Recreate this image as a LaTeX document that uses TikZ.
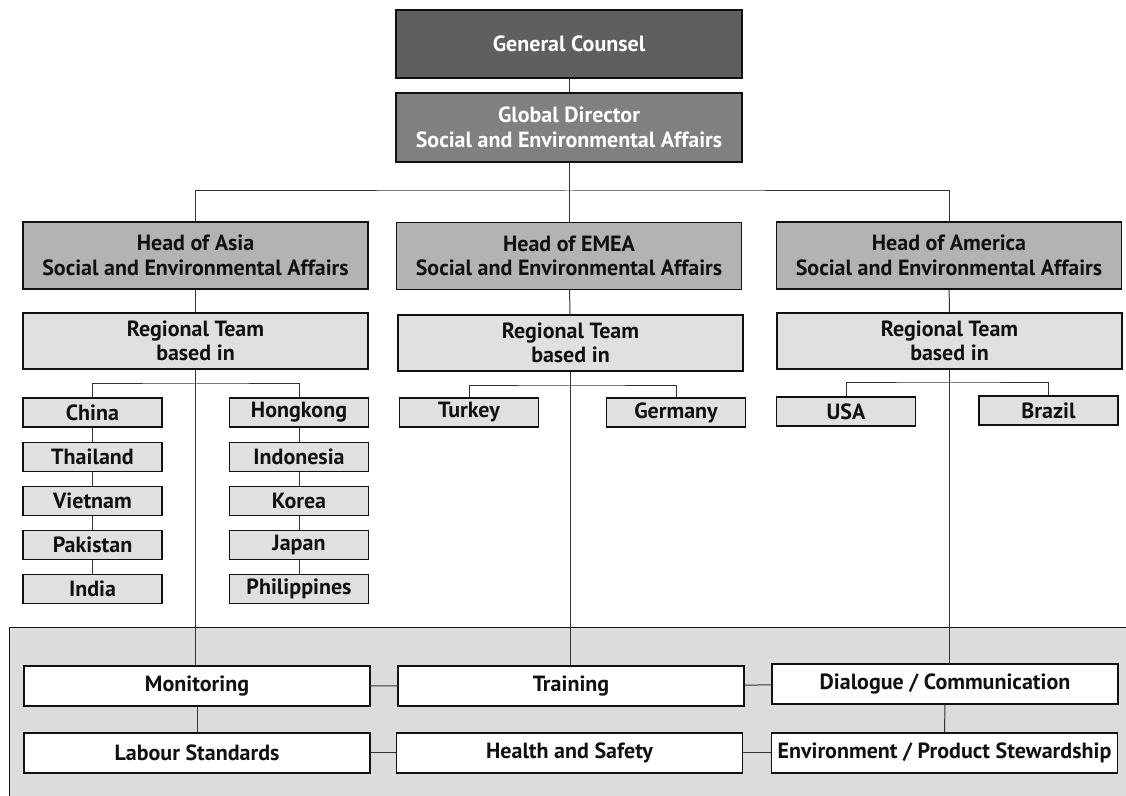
\documentclass[tikz,border=0pt]{standalone}
\usepackage{fontspec}
\setmainfont{PT Sans}
\usepackage{xcolor}
\usepackage{tikz}
\usetikzlibrary{positioning}
\definecolor{ink}      {HTML}{111111}
\definecolor{wire}     {HTML}{333333}
\definecolor{dark}     {HTML}{5F5F5F}
\definecolor{mid}      {HTML}{808080}
\definecolor{headbg}   {HTML}{B3B3B3}
\definecolor{teambg}   {HTML}{E0E0E0}
\definecolor{panelbg}  {HTML}{DCDCDC}
\tikzset{
  box/.style   = {draw=ink, line width=0.6pt, align=center, inner sep=2pt,
                  font=\bfseries\fontsize{11}{12.3}\selectfont},
  chief/.style = {box, fill=dark, text=white, minimum width=173pt, minimum height=34pt},
  lead/.style  = {box, fill=mid, text=white, minimum width=173pt, minimum height=34.5pt},
  head/.style  = {box, fill=headbg, text=ink, minimum width=172.5pt, minimum height=33.5pt},
  team/.style  = {box, fill=teambg, text=ink, minimum width=172.5pt, minimum height=28pt},
  land/.style  = {box, fill=teambg, text=ink, minimum width=69.5pt, minimum height=14.5pt},
  task/.style  = {box, fill=white, text=ink, minimum width=173pt, minimum height=20pt},
  link/.style  = {draw=wire, line width=0.5pt},
  panel/.style = {fill=panelbg, draw=ink, line width=0.5pt},
}

\begin{document}
\begin{tikzpicture}[x=0.5pt, y=-0.5pt, node distance=7pt]
  \useasboundingbox (0,0) rectangle (1126,796);
  \draw[panel] (9,628) rectangle (1140,800);

  \node[chief] (gc)   at (569,44)    {General Counsel};
  \node[lead]  (gd)   at (569,127.5) {Global Director\\Social and Environmental Affairs};

  \node[head]  (asia) at (195.5,255.5) {Head of Asia\\Social and Environmental Affairs};
  \node[head]  (emea) at (569,256)     {Head of EMEA\\Social and Environmental Affairs};
  \node[head]  (amer) at (949,255.5)   {Head of America\\Social and Environmental Affairs};

  \node[team]  (asiateam) at (195.5,341) {Regional Team\\based in};
  \node[team]  (emeateam) at (570.5,343) {Regional Team\\based in};
  \node[team]  (amerteam) at (949.5,341) {Regional Team\\based in};

  % Asia
  \node[land] (china) at (92.5,412.5)  {China};
  \node[land] (thai)  [below=of china] {Thailand};
  \node[land] (viet)  [below=of thai]  {Vietnam};
  \node[land] (pak)   [below=of viet]  {Pakistan};
  \node[land] (india) [below=of pak]   {India};
  \node[land] (hk)    at (299,412.5)   {Hongkong};
  \node[land] (indo)  [below=of hk]    {Indonesia};
  \node[land] (korea) [below=of indo]  {Korea};
  \node[land] (japan) [below=of korea] {Japan};
  \node[land] (phil)  [below=of japan] {Philippines};

  % EMEA and America
  \node[land] (turkey)  at (469,412.5)  {Turkey};
  \node[land] (germany) at (676,412.5)  {Germany};
  \node[land] (usa)     at (846,411.5)  {USA};
  \node[land] (brazil)  at (1048.5,410.5) {Brazil};

  % tasks
  \node[task] (mon) at (197,686)   {Monitoring};
  \node[task] (trn) at (571,686)   {Training};
  \node[task] (dlg) at (945,684)   {Dialogue / Communication};
  \node[task] (lab) at (197,753)   {Labour Standards};
  \node[task] (hs)  at (569.5,753) {Health and Safety};
  \node[task] (env) at (944.5,753) {Environment / Product Stewardship};

  \coordinate (bus)    at (569,191);
  \coordinate (asiabr) at (195.5,384);
  \coordinate (emeabr) at (570.5,386);
  \coordinate (amerbr) at (949.5,383);

  \draw[link] (gc) -- (gd);
  \draw[link] (gd) -- (bus);
  \draw[link] (asia.north) |- (bus) -| (amer.north);
  \draw[link] (bus) -- (emea.north);

  \draw[link] (asia) -- (asiateam);
  \draw[link] (emea) -- (emeateam);
  \draw[link] (amer) -- (amerteam);

  \draw[link] (asiateam.south) -- (asiateam.south |- mon.north);
  \draw[link] (emeateam.south) -- (emeateam.south |- trn.north);
  \draw[link] (amerteam.south) -- (amerteam.south |- dlg.north);

  \draw[link] (china.north) |- (asiabr) -| (hk.north);
  \draw[link] (turkey.north) |- (emeabr) -| (germany.north);
  \draw[link] (usa.north) |- (amerbr) -| (brazil.north);

  \draw[link] (china) -- (thai) -- (viet) -- (pak) -- (india);
  \draw[link] (hk) -- (indo) -- (korea) -- (japan) -- (phil);

  \draw[link] (mon) -- (trn) -- (dlg);
  \draw[link] (lab) -- (hs) -- (env);
  \draw[link] (mon) -- (lab);
  \draw[link] (dlg) -- (env);
\end{tikzpicture}
\end{document}
